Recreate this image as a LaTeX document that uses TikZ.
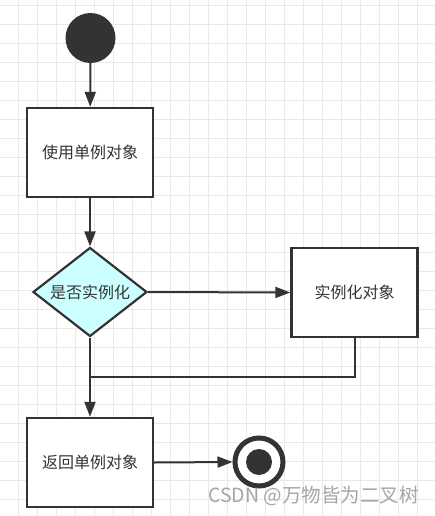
\documentclass[tikz,border=0pt]{standalone}
\usepackage{fontspec}
\newfontfamily\cjk{Noto Sans CJK SC}
\usetikzlibrary{shapes.geometric,arrows.meta}
\definecolor{ink}{HTML}{333333}
\definecolor{gridc}{HTML}{E9E9E9}
\definecolor{dfill}{HTML}{CCFFFF}
\begin{document}
\begin{tikzpicture}[x=1pt,y=-1pt,
  every node/.style={font=\cjk\fontsize{16}{19}\selectfont, text=ink},
  actbox/.style={draw=ink, line width=2.4pt, fill=white, minimum width=126pt, minimum height=89pt, inner sep=0pt},
  decide/.style={diamond, draw=ink, line width=2.2pt, fill=dfill, minimum width=114pt, minimum height=89pt, inner sep=0pt},
  flow/.style={draw=ink, line width=2pt, -{Triangle[length=15pt,width=11pt]}},
  plain/.style={draw=ink, line width=2pt}]
\useasboundingbox (0,0) rectangle (435,516);
\fill[white] (0,0) rectangle (435,516);
\foreach \gx in {0,...,22} {\draw[gridc, line width=0.8pt] (-0.5+19*\gx,0) -- (-0.5+19*\gx,516);}
\foreach \gy in {0,...,27} {\draw[gridc, line width=0.8pt] (0,5.5+19*\gy) -- (435,5.5+19*\gy);}
\node[circle, fill=ink, minimum size=50pt, inner sep=0pt] (start) at (90.5,38) {};
\node[actbox] (use) at (90,152.5) {使用单例对象};
\node[decide] (dec) at (90,292) {};
\node[inner sep=0pt] (declabel) at (dec.center) {是否实例化};
\node[actbox] (inst) at (354.5,292.5) {实例化对象};
\node[actbox] (ret) at (90,462.5) {返回单例对象};
\node[circle, draw=ink, line width=5pt, fill=white, minimum size=48pt, inner sep=0pt] (fin) at (259,462) {};
\node[circle, fill=ink, minimum size=26pt, inner sep=0pt] (fincore) at (fin.center) {};
\coordinate (merge) at (90,377);
\draw[flow] (start) -- (use);
\draw[flow] (use) -- (dec);
\draw[flow] (dec.east) -- (inst.west);
\draw[flow] (dec.south) -- (ret.north);
\draw[plain] (inst.south) |- (merge);
\draw[flow] (ret.east) -- (fin.west);
\node[text=gray!70, font=\cjk\fontsize{19.5}{22}\selectfont, anchor=east, inner sep=0pt] (mark) at (419,496) {CSDN @万物皆为二叉树};
\end{tikzpicture}
\end{document}
